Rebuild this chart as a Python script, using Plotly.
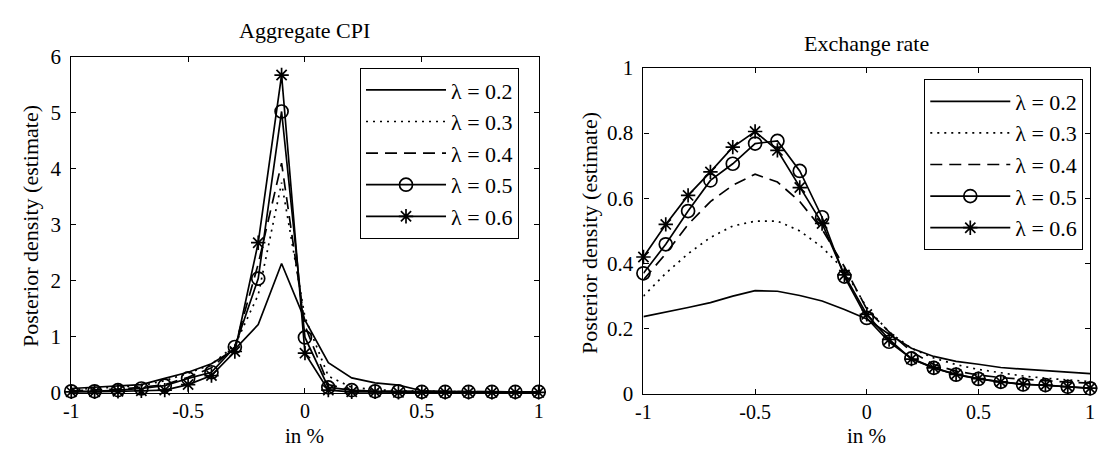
import plotly.graph_objects as go

# ---------------- data ----------------
x_vals = [-1.0, -0.9, -0.8, -0.7, -0.6, -0.5, -0.4, -0.3, -0.2, -0.1, 0.0,
          0.1, 0.2, 0.3, 0.4, 0.5, 0.6, 0.7, 0.8, 0.9, 1.0]

lambda_labels = ["λ = 0.2", "λ = 0.3", "λ = 0.4", "λ = 0.5", "λ = 0.6"]

# Aggregate CPI
cpi_02 = [0.08, 0.10, 0.12, 0.15, 0.26, 0.37, 0.52, 0.78, 1.22, 2.31, 1.30,
          0.54, 0.27, 0.18, 0.14, 0.04, 0.03, 0.02, 0.02, 0.02, 0.02]
cpi_03 = [0.06, 0.08, 0.10, 0.13, 0.22, 0.35, 0.51, 0.85, 1.75, 3.75, 1.35,
          0.30, 0.10, 0.06, 0.04, 0.03, 0.02, 0.02, 0.02, 0.02, 0.02]
cpi_04 = [0.04, 0.05, 0.07, 0.10, 0.15, 0.28, 0.45, 0.82, 2.30, 4.10, 1.20,
          0.15, 0.05, 0.03, 0.03, 0.02, 0.02, 0.02, 0.02, 0.02, 0.02]
cpi_05 = [0.03, 0.03, 0.05, 0.08, 0.13, 0.26, 0.37, 0.82, 2.04, 5.02, 0.99,
          0.10, 0.05, 0.03, 0.03, 0.02, 0.02, 0.02, 0.02, 0.02, 0.02]
cpi_06 = [0.02, 0.02, 0.03, 0.04, 0.05, 0.15, 0.31, 0.74, 2.68, 5.67, 0.71,
          0.05, 0.02, 0.02, 0.01, 0.01, 0.01, 0.01, 0.01, 0.01, 0.01]

# Exchange rate
er_02 = [0.237, 0.25, 0.265, 0.28, 0.30, 0.317, 0.315, 0.302, 0.285, 0.259, 0.23,
         0.183, 0.14, 0.115, 0.10, 0.091, 0.081, 0.076, 0.071, 0.066, 0.062]
er_03 = [0.30, 0.37, 0.43, 0.48, 0.515, 0.53, 0.53, 0.50, 0.45, 0.38, 0.265,
         0.19, 0.14, 0.11, 0.09, 0.075, 0.065, 0.055, 0.048, 0.042, 0.038]
er_04 = [0.35, 0.43, 0.52, 0.59, 0.64, 0.674, 0.65, 0.59, 0.505, 0.39, 0.26,
         0.19, 0.13, 0.09, 0.07, 0.058, 0.05, 0.045, 0.04, 0.036, 0.033]
er_05 = [0.37, 0.459, 0.561, 0.655, 0.706, 0.768, 0.776, 0.684, 0.542, 0.36, 0.233,
         0.16, 0.109, 0.08, 0.059, 0.046, 0.037, 0.029, 0.027, 0.022, 0.017]
er_06 = [0.42, 0.52, 0.609, 0.681, 0.757, 0.805, 0.747, 0.633, 0.523, 0.365, 0.244,
         0.167, 0.107, 0.08, 0.06, 0.047, 0.037, 0.03, 0.027, 0.022, 0.018]

x_ticks = [-1, -0.5, 0, 0.5, 1]
x_ticktext = ["-1", "-0.5", "0", "0.5", "1"]
cpi_yticks = [0, 1, 2, 3, 4, 5, 6]
er_yticks = [0, 0.2, 0.4, 0.6, 0.8, 1]
er_yticktext = ["0", "0.2", "0.4", "0.6", "0.8", "1"]

# ---------------- styling ----------------
FONT = "Liberation Serif"
FS_TICK = 21
FS_XTICK = 20
FS_TEXT = 22
FS_XLAB = 21
FS_LEG = 22
W, H = 1104, 459
LW = 1.7
styles = [
    dict(dash="solid", mode="lines", symbol=None),
    dict(dash="2px,5px", mode="lines", symbol=None),
    dict(dash="12px,7px", mode="lines", symbol=None),
    dict(dash="solid", mode="lines+markers", symbol="circle-open"),
    dict(dash="solid", mode="lines+markers", symbol="asterisk-open"),
]

fig = go.Figure()

def add_series(ys_list, xa, ya, legend_name):
    for i, (ys, st) in enumerate(zip(ys_list, styles)):
        kw = dict(
            x=x_vals, y=ys, xaxis=xa, yaxis=ya, name=lambda_labels[i],
            mode=st["mode"], line=dict(color="black", width=LW, dash=st["dash"]),
            legend=legend_name, legendgroup=legend_name + str(i), showlegend=True,
            hoverinfo="skip", cliponaxis=False,
        )
        if st["symbol"]:
            kw["marker"] = dict(symbol=st["symbol"], size=13 if "circle" in st["symbol"] else 12,
                                color="black", line=dict(color="black", width=1.7))
        fig.add_trace(go.Scatter(**kw))

add_series([cpi_02, cpi_03, cpi_04, cpi_05, cpi_06], "x", "y", "legend")
add_series([er_02, er_03, er_04, er_05, er_06], "x2", "y2", "legend2")

axis_common = dict(
    showline=True, linecolor="black", linewidth=1.2, mirror="allticks",
    ticks="inside", ticklen=5, tickcolor="black", tickwidth=1.2,
    showgrid=False, zeroline=False, ticklabeloverflow="allow",
)
xtickfont = dict(family=FONT, size=FS_XTICK, color="black")
ytickfont = dict(family=FONT, size=FS_TICK, color="black")

fig.update_layout(
    width=W, height=H,
    margin=dict(l=0, r=0, t=0, b=0),
    paper_bgcolor="white", plot_bgcolor="white",
    font=dict(family=FONT, size=FS_TICK, color="black"),
    xaxis=dict(domain=[64 / W, 537 / W], range=[-1, 1], tickvals=x_ticks,
               ticktext=x_ticktext, anchor="y", tickfont=xtickfont, **axis_common),
    yaxis=dict(domain=[1 - 402 / H, 1 - 47 / H], range=[0, 6], tickvals=cpi_yticks,
               anchor="x", ticklabelstandoff=5, tickfont=ytickfont, **axis_common),
    xaxis2=dict(domain=[643 / W, 1095 / W], range=[-1, 1], tickvals=x_ticks,
                ticktext=x_ticktext, anchor="y2", tickfont=xtickfont, **axis_common),
    yaxis2=dict(domain=[1 - 403 / H, 1 - 59 / H], range=[0, 1], tickvals=er_yticks,
                ticktext=er_yticktext, anchor="x2", ticklabelstandoff=5,
                tickfont=ytickfont, **axis_common),
    legend=dict(x=356 / W, y=1 - 59 / H, xanchor="left", yanchor="top",
                bordercolor="black", borderwidth=1.2, bgcolor="white",
                font=dict(family=FONT, size=FS_LEG, color="black"),
                tracegroupgap=0, itemwidth=80),
    legend2=dict(x=927 / W, y=1 - 71 / H, xanchor="left", yanchor="top",
                 bordercolor="black", borderwidth=1.2, bgcolor="white",
                 font=dict(family=FONT, size=FS_LEG, color="black"),
                 tracegroupgap=0, itemwidth=80),
    showlegend=True,
)

annotations = [
    dict(text="Aggregate CPI", x=300.5 / W, y=1 - 19 / H, size=FS_TEXT),
    dict(text="Exchange rate", x=869 / W, y=1 - 33 / H, size=FS_TEXT),
    dict(text="in %", x=300.5 / W, y=1 - 447 / H, size=FS_XLAB),
    dict(text="in %", x=869 / W, y=1 - 447 / H, size=FS_XLAB),
    dict(text="Posterior density (estimate)", x=22 / W, y=1 - 226 / H, textangle=-90, size=FS_TEXT),
    dict(text="Posterior density (estimate)", x=589 / W, y=1 - 233 / H, textangle=-90, size=FS_TEXT),
]
for a in annotations:
    size = a.pop("size")
    fig.add_annotation(xref="paper", yref="paper", showarrow=False,
                       xanchor="center", yanchor="middle",
                       font=dict(family=FONT, size=size, color="black"), **a)

post = """
document.documentElement.style.margin='0';
document.body.style.margin='0';
document.body.style.overflow='hidden';
"""

fig.write_html("out.html", config={"displayModeBar": False}, post_script=post)
